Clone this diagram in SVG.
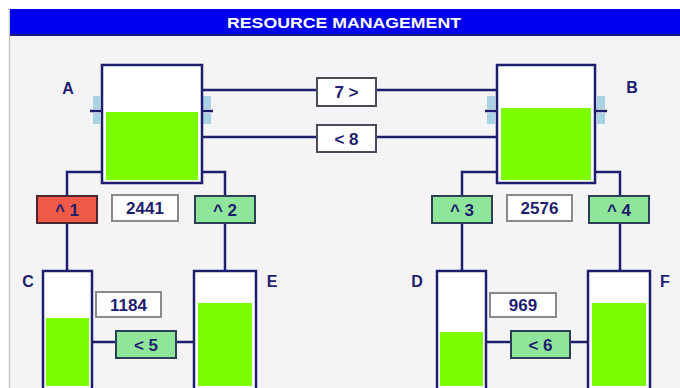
<svg xmlns="http://www.w3.org/2000/svg" width="680" height="388" viewBox="0 0 680 388">
<style>
.tank{fill:#ffffff;stroke:#1e1e6e;stroke-width:2.5}
.liq{fill:#7cfc00}
.pipe{stroke:#1e1e6e;stroke-width:2.5;fill:none}
.stub{fill:#a9d2e6}
.lbl{font-family:"Liberation Sans",Arial,sans-serif;font-weight:bold;font-size:16px;fill:#1e1e6e;text-anchor:middle}
.vtxt{font-family:"Liberation Sans",Arial,sans-serif;font-weight:bold;font-size:17px;fill:#1e1e6e;text-anchor:middle}
.cnt{fill:#ffffff;stroke:#8a8a8a;stroke-width:2}
.vwhite{fill:#ffffff;stroke:#4a4a5a;stroke-width:2}
.vgreen{fill:#8fe69b;stroke:#2c3f55;stroke-width:2}
.vred{fill:#ef5a47;stroke:#4a2530;stroke-width:2}
</style>
<rect x="0" y="0" width="680" height="388" fill="#ffffff"/>
<rect x="10" y="36" width="670" height="352" fill="#f4f4f7"/>
<line x1="9.5" y1="8" x2="9.5" y2="388" stroke="#c8c8cc" stroke-width="1.5"/>
<g id="title">
<rect x="10" y="9" width="670" height="27" fill="#0000f0"/>
<rect x="10" y="34" width="670" height="2" fill="#1a1a80"/>
<text x="344" y="28" font-family="Liberation Sans,Arial,sans-serif" font-weight="bold" font-size="15" fill="#ffffff" text-anchor="middle" textLength="234" lengthAdjust="spacingAndGlyphs">RESOURCE MANAGEMENT</text>
</g>
<g id="connectors">
<path class="pipe" d="M202 90H317M376 90H497"/>
<path class="pipe" d="M202 137H317M376 137H497"/>
<path class="pipe" d="M102 172H67V196M67 223V271"/>
<path class="pipe" d="M202 172H225V196M225 223V271"/>
<path class="pipe" d="M497 172H462V196M462 223V271"/>
<path class="pipe" d="M595 172H620V196M620 223V271"/>
<path class="pipe" d="M92 342H116M176 342H194"/>
<path class="pipe" d="M486 342H511M570 342H588"/>
<path class="pipe" d="M90 111H102M202 111H213"/>
<path class="pipe" d="M485 111H497M595 111H607"/>
</g>
<g id="tankA">
<rect class="stub" x="93" y="96" width="7" height="13"/><rect class="stub" x="93" y="113" width="7" height="11"/>
<rect class="stub" x="203" y="96" width="8" height="13"/><rect class="stub" x="203" y="113" width="8" height="11"/>
<rect class="tank" x="102" y="65" width="100" height="118"/>
<rect class="liq" x="106" y="112" width="92" height="68"/>
<text class="lbl" x="68" y="94">A</text>
</g>
<g id="tankB">
<rect class="stub" x="487" y="96" width="8" height="13"/><rect class="stub" x="487" y="113" width="8" height="11"/>
<rect class="stub" x="597" y="96" width="8" height="13"/><rect class="stub" x="597" y="113" width="8" height="11"/>
<rect class="tank" x="497" y="65" width="98" height="118"/>
<rect class="liq" x="501" y="108" width="90" height="72"/>
<text class="lbl" x="632" y="93">B</text>
</g>
<g id="tankC">
<rect class="tank" x="43" y="271" width="49" height="130"/>
<rect class="liq" x="46" y="318" width="43" height="68"/>
<text class="lbl" x="28" y="287">C</text>
</g>
<g id="tankE">
<rect class="tank" x="194" y="271" width="62" height="130"/>
<rect class="liq" x="198" y="303" width="54" height="83"/>
<text class="lbl" x="272" y="287">E</text>
</g>
<g id="tankD">
<rect class="tank" x="437" y="271" width="49" height="130"/>
<rect class="liq" x="440" y="332" width="43" height="54"/>
<text class="lbl" x="417" y="287">D</text>
</g>
<g id="tankF">
<rect class="tank" x="588" y="271" width="62" height="130"/>
<rect class="liq" x="592" y="303" width="54" height="83"/>
<text class="lbl" x="665" y="287">F</text>
</g>
<g id="valve7"><rect class="vwhite" x="317" y="78" width="59" height="28"/><text class="vtxt" x="346.5" y="98">7 &gt;</text></g>
<g id="valve8"><rect class="vwhite" x="317" y="125" width="59" height="27"/><text class="vtxt" x="346.5" y="144.5">&lt; 8</text></g>
<g id="valve1"><rect class="vred" x="37" y="196" width="60" height="27"/><text class="vtxt" x="67" y="215.5">^ 1</text></g>
<g id="valve2"><rect class="vgreen" x="195" y="196" width="60" height="27"/><text class="vtxt" x="225" y="215.5">^ 2</text></g>
<g id="valve3"><rect class="vgreen" x="432" y="196" width="60" height="27"/><text class="vtxt" x="462" y="215.5">^ 3</text></g>
<g id="valve4"><rect class="vgreen" x="589" y="196" width="60" height="27"/><text class="vtxt" x="619" y="215.5">^ 4</text></g>
<g id="valve5"><rect class="vgreen" x="116" y="331" width="60" height="27"/><text class="vtxt" x="146" y="350.5">&lt; 5</text></g>
<g id="valve6"><rect class="vgreen" x="511" y="331" width="59" height="27"/><text class="vtxt" x="540.5" y="350.5">&lt; 6</text></g>
<g id="countA"><rect class="cnt" x="112" y="195" width="66" height="26"/><text class="vtxt" x="145" y="214">2441</text></g>
<g id="countB"><rect class="cnt" x="507" y="195" width="65" height="26"/><text class="vtxt" x="539.5" y="214">2576</text></g>
<g id="countC"><rect class="cnt" x="96" y="292" width="65" height="25"/><text class="vtxt" x="128.5" y="310.5">1184</text></g>
<g id="countD"><rect class="cnt" x="490" y="293" width="66" height="24"/><text class="vtxt" x="523" y="311">969</text></g>
</svg>
